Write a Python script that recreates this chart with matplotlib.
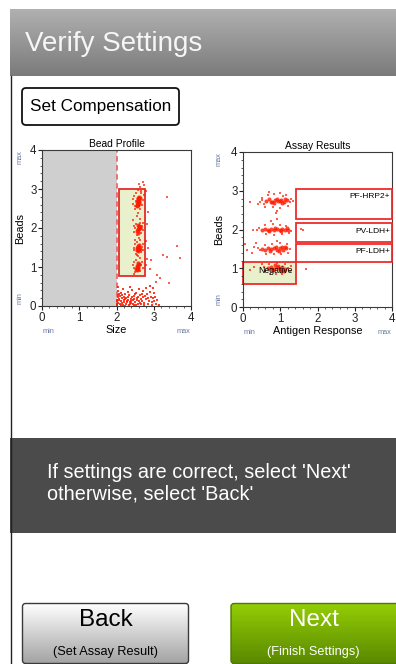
import numpy as np
import matplotlib
matplotlib.use("Agg")
import matplotlib.pyplot as plt
from matplotlib.patches import Rectangle, FancyBboxPatch
from matplotlib.colors import to_rgb
from matplotlib.ticker import AutoMinorLocator, MultipleLocator

plt.rcParams['font.family'] = ['Liberation Sans', 'DejaVu Sans']

# ---------------- DATA ----------------
ticks = [0, 1, 2, 3, 4]

# Bead Profile (Size vs Beads)
bp_core_x = [2.56, 2.57, 2.58, 2.59, 2.60, 2.55, 2.61, 2.58, 2.60, 2.57, 2.62, 2.54,
             2.58, 2.59, 2.60, 2.61, 2.57, 2.62, 2.59, 2.56, 2.63,
             2.57, 2.58, 2.59, 2.60, 2.56, 2.61, 2.58, 2.55, 2.62,
             2.55, 2.56, 2.57, 2.58, 2.54, 2.59, 2.57, 2.60, 2.53]
bp_core_y = [2.56, 2.62, 2.68, 2.74, 2.80, 2.66, 2.70, 2.58, 2.64, 2.76, 2.78, 2.60,
             1.88, 1.94, 2.00, 2.05, 1.98, 1.99, 2.08, 1.92, 2.03,
             1.40, 1.46, 1.52, 1.56, 1.48, 1.50, 1.55, 1.43, 1.45,
             0.92, 0.98, 1.04, 1.10, 1.02, 1.00, 0.94, 1.07, 0.96]
bp_halo_x = [2.45, 2.48, 2.66, 2.64, 2.50, 2.70, 2.52, 2.68, 2.44, 2.63, 2.60, 2.71, 2.66, 2.49, 2.74, 2.58, 2.53, 3.35,
             2.48, 2.52, 2.68, 2.66, 2.50, 2.70, 2.55, 2.64, 2.46, 2.72, 2.62, 2.55, 2.58, 2.82,
             2.48, 2.50, 2.68, 2.66, 2.52, 2.70, 2.54, 2.63, 2.46, 2.72, 2.60, 2.50, 2.84, 2.80,
             2.46, 2.48, 2.66, 2.64, 2.50, 2.68, 2.52, 2.62, 2.45, 2.70, 2.58, 2.48, 2.82, 2.80, 2.56,
             2.84, 2.89, 2.93, 3.25, 3.18, 3.10, 3.05, 3.40, 3.35, 3.62, 3.70, 2.45, 2.79, 2.75]
bp_halo_y = [2.62, 2.82, 2.90, 2.50, 2.48, 2.72, 2.90, 2.60, 2.74, 3.05, 3.12, 3.18, 2.96, 2.56, 2.84, 2.98, 2.70, 2.80,
             1.90, 2.10, 2.06, 1.88, 2.00, 1.96, 1.82, 2.14, 2.05, 2.12, 2.22, 2.30, 2.38, 2.10,
             1.44, 1.60, 1.52, 1.38, 1.34, 1.60, 1.64, 1.68, 1.50, 1.44, 1.74, 1.70, 1.48, 1.66,
             0.98, 1.12, 1.06, 0.90, 0.86, 1.14, 1.18, 1.22, 1.04, 0.98, 1.28, 0.82, 1.20, 1.05, 1.32,
             2.40, 0.94, 1.18, 1.30, 0.72, 0.80, 0.62, 0.60, 1.25, 1.55, 1.22, 2.20, 2.95, 3.10]
debris_x = [2.02, 2.05, 2.08, 2.03, 2.10, 2.12, 2.15, 2.07, 2.18, 2.20, 2.22, 2.04, 2.25, 2.27, 2.30, 2.13,
            2.33, 2.35, 2.38, 2.24, 2.40, 2.43, 2.46, 2.17, 2.48, 2.51, 2.54, 2.31, 2.57, 2.60, 2.63, 2.41,
            2.66, 2.69, 2.72, 2.52, 2.75, 2.78, 2.82, 2.60, 2.85, 2.88, 2.92, 2.70, 2.95, 2.98, 3.02, 2.80,
            3.06, 3.10, 2.02, 2.06, 2.09, 2.11, 2.14, 2.16, 2.19, 2.21, 2.23, 2.26, 2.28, 2.32, 2.34, 2.36,
            2.39, 2.42, 2.44, 2.47, 2.50, 2.53, 2.56, 2.59, 2.62, 2.65, 2.68, 2.73, 2.77, 2.84, 2.90, 2.96,
            3.00, 3.04, 2.05, 2.35, 2.90, 2.98, 3.14, 2.00, 2.01, 2.03]
debris_y = [0.02, 0.08, 0.15, 0.22, 0.05, 0.12, 0.20, 0.30, 0.03, 0.10, 0.18, 0.38, 0.06, 0.14, 0.24, 0.34,
            0.02, 0.11, 0.19, 0.30, 0.07, 0.15, 0.26, 0.44, 0.03, 0.10, 0.20, 0.36, 0.06, 0.14, 0.28, 0.40,
            0.04, 0.12, 0.22, 0.34, 0.08, 0.18, 0.30, 0.44, 0.05, 0.14, 0.24, 0.38, 0.10, 0.20, 0.33, 0.46,
            0.06, 0.16, 0.12, 0.18, 0.26, 0.02, 0.08, 0.28, 0.16, 0.24, 0.01, 0.20, 0.09, 0.16, 0.28, 0.05,
            0.13, 0.22, 0.04, 0.17, 0.30, 0.02, 0.16, 0.24, 0.08, 0.19, 0.32, 0.02, 0.26, 0.20, 0.36, 0.02,
            0.12, 0.24, 0.48, 0.50, 0.52, 0.45, 0.02, 0.06, 0.16, 0.28]
size_threshold = 2.0
bead_gate = [2.08, 0.77, 2.77, 2.99]          # x0, y0, x1, y1

# Assay Results (Antigen Response vs Beads)
ar_core_x = [0.62, 0.70, 0.78, 0.86, 0.94, 1.02, 1.10, 1.18, 0.74, 0.90, 1.06, 0.98, 0.82, 1.14,
             0.50, 0.58, 0.66, 0.74, 0.82, 0.90, 0.98, 1.06, 1.14, 1.22, 0.70, 0.86, 1.02, 1.18,
             0.52, 0.60, 0.68, 0.76, 0.84, 0.92, 1.00, 1.08, 1.16, 0.72, 0.88, 1.04, 0.96, 1.12,
             0.66, 0.74, 0.82, 0.90, 0.98, 1.06, 1.14, 0.78, 0.94, 1.10, 0.86, 1.02]
ar_core_y = [2.74, 2.78, 2.72, 2.76, 2.73, 2.77, 2.71, 2.75, 2.70, 2.80, 2.68, 2.74, 2.68, 2.79,
             1.99, 2.01, 1.98, 2.02, 1.99, 2.01, 1.98, 2.02, 1.99, 2.00, 1.96, 2.04, 1.96, 2.03,
             1.50, 1.47, 1.52, 1.49, 1.53, 1.48, 1.51, 1.47, 1.52, 1.45, 1.56, 1.55, 1.44, 1.56,
             1.00, 1.03, 0.98, 1.02, 0.99, 1.03, 0.98, 0.95, 1.06, 0.94, 1.08, 0.93]
ar_halo_x = [0.45, 0.52, 0.56, 1.25, 1.30, 0.66, 0.84, 1.00, 1.16, 0.60, 0.80, 0.98, 1.20, 0.92, 0.88, 0.20,
             0.40, 1.34, 0.70, 1.08, 0.50,
             0.38, 0.44, 1.30, 0.60, 0.80, 1.00, 1.16, 0.62, 0.84, 1.04, 1.24, 0.76, 0.92, 1.62, 1.55, 0.28,
             0.40, 0.46, 1.26, 0.58, 0.78, 0.98, 1.18, 0.62, 0.82, 1.02, 1.22, 0.30, 0.12, 0.06, 0.24, 0.90, 0.36,
             0.56, 0.60, 1.22, 1.26, 0.70, 0.92, 1.12, 0.72, 0.88, 1.06, 0.30, 0.20, 1.70, 0.50, 1.30]
ar_halo_y = [2.72, 2.82, 2.66, 2.70, 2.80, 2.90, 2.92, 2.94, 2.90, 2.58, 2.58, 2.56, 2.60, 2.48, 2.42, 2.70,
             2.66, 2.74, 2.98, 2.86, 2.76,
             1.98, 2.04, 1.96, 2.12, 2.14, 2.12, 2.10, 1.88, 1.86, 1.88, 1.90, 2.22, 2.26, 1.98, 2.02, 2.00,
             1.52, 1.46, 1.50, 1.60, 1.62, 1.64, 1.62, 1.38, 1.36, 1.38, 1.40, 1.56, 1.48, 1.62, 1.40, 1.70, 1.64,
             1.02, 0.92, 1.00, 0.92, 1.12, 1.14, 1.10, 0.86, 0.84, 0.86, 1.04, 0.96, 0.98, 1.10, 1.06]
gate_names = ['Negative', 'PF-LDH+', 'PV-LDH+', 'PF-HRP2+']
gate_x0 = [0.0, 1.41, 1.41, 1.41]
gate_x1 = [1.41, 4.0, 4.0, 4.0]
gate_y0 = [0.59, 1.17, 1.67, 2.26]
gate_y1 = [1.17, 1.62, 2.16, 3.04]

# ---------------- LAYOUT ----------------
W, H = 396, 664
fig = plt.figure(figsize=(W / 100, H / 100), dpi=100)
fig.patch.set_facecolor('white')
bg = fig.add_axes([0, 0, 1, 1])
bg.axis('off')


def gradient(x0, y0, x1, y1, ctop, cbot, clip=None, z=1):
    t = np.linspace(0, 1, 64)[:, None, None]
    arr = (1 - t) * np.array(to_rgb(ctop)) + t * np.array(to_rgb(cbot))
    arr = np.repeat(arr, 2, axis=1)
    im = bg.imshow(arr, extent=(x0, x1, y1, y0), aspect='auto',
                   interpolation='bilinear', zorder=z)
    if clip is not None:
        im.set_clip_path(clip)
    return im


# header
gradient(10, 9, W, 76, '#b0b0b0', '#7b7b7b')
bg.text(25, 44, 'Verify Settings', color='#f6f6f6', fontsize=20, va='center', ha='left', zorder=3)
# left rule
bg.plot([10.5, 10.5], [76, H], color='#222222', lw=1.0, zorder=3)

# Set Compensation button
bg.add_patch(FancyBboxPatch((22, 88), 157, 37, boxstyle='round,pad=0,rounding_size=4',
                            fc='white', ec='#111111', lw=1.3, zorder=2))
bg.text(100.5, 106.5, 'Set Compensation', fontsize=12.3, ha='center', va='center', zorder=3)

# message band
bg.add_patch(Rectangle((10, 438), W - 10, 95, fc='#4b4b4b', ec='none', zorder=1))
bg.text(47, 472, "If settings are correct, select 'Next'", color='white', fontsize=14.3,
        va='center', ha='left', zorder=3)
bg.text(47, 494, "otherwise, select 'Back'", color='white', fontsize=14.3,
        va='center', ha='left', zorder=3)

# Back button
back = FancyBboxPatch((22.5, 603.5), 166, 60, boxstyle='round,pad=0,rounding_size=3',
                      fc='none', ec='#3a3a3a', lw=1.0, zorder=4)
bg.add_patch(back)
gradient(22.5, 603.5, 188.5, 663.5, '#ffffff', '#a4a4a4', clip=back, z=2)
bg.text(105.5, 620, 'Back', fontsize=17.5, ha='center', va='center', zorder=5)
bg.text(105.5, 652, '(Set Assay Result)', fontsize=9.2, ha='center', va='center', zorder=5)

# Next button
nxt = FancyBboxPatch((231, 603.5), 170, 60, boxstyle='round,pad=0,rounding_size=3',
                     fc='none', ec='#4f7a00', lw=1.0, zorder=4)
bg.add_patch(nxt)
gradient(231, 603.5, 401, 663.5, '#94ce05', '#5a8900', clip=nxt, z=2)
bg.text(313.5, 620, 'Next', fontsize=17.5, ha='center', va='center', color='white', zorder=5)
bg.text(313.5, 652, '(Finish Settings)', fontsize=9.2, ha='center', va='center', color='white', zorder=5)

bg.set_xlim(0, W)
bg.set_ylim(H, 0)


def make_ax(l, t, r, b):
    ax = fig.add_axes([l / W, 1 - b / H, (r - l) / W, (b - t) / H])
    ax.set_xlim(0, 4)
    ax.set_ylim(0, 4)
    ax.xaxis.set_major_locator(MultipleLocator(1))
    ax.yaxis.set_major_locator(MultipleLocator(1))
    ax.xaxis.set_minor_locator(AutoMinorLocator(5))
    ax.yaxis.set_minor_locator(AutoMinorLocator(5))
    ax.set_xticks(ticks)
    ax.set_yticks(ticks)
    ax.tick_params(which='major', direction='out', length=3, width=0.8, labelsize=8.3,
                   pad=1, colors='#222222')
    ax.tick_params(which='minor', direction='out', length=1.6, width=0.6, colors='#444444')
    for s in ax.spines.values():
        s.set_color('#3a3a3a')
        s.set_linewidth(0.8)
    return ax


def decorate(ax, title, xlabel, lab_x):
    ax.set_title(title, fontsize=7.4, pad=2.5)
    ax.set_xlabel(xlabel, fontsize=7.8, va='center')
    ax.xaxis.set_label_coords(0.5, -0.155)
    ax.set_ylabel('Beads', fontsize=7.8, va='center')
    ax.yaxis.set_label_coords(lab_x, 0.5)
    mc = '#6878a0'
    ax.text(lab_x, 0.955, 'max', transform=ax.transAxes, rotation=90, fontsize=5.3,
            color=mc, ha='center', va='center')
    ax.text(lab_x, 0.05, 'min', transform=ax.transAxes, rotation=90, fontsize=5.3,
            color=mc, ha='center', va='center')
    ax.text(0.04, -0.165, 'min', transform=ax.transAxes, fontsize=5.3, color=mc,
            ha='center', va='center')
    ax.text(0.95, -0.165, 'max', transform=ax.transAxes, fontsize=5.3, color=mc,
            ha='center', va='center')


red = '#ff1a00'

# ----- Bead Profile -----
ax1 = make_ax(42, 150, 191, 306)
ax1.axvspan(0, size_threshold, color='#cfcfcf', lw=0, zorder=0)
ax1.axvline(size_threshold, color='#e86a6a', ls=(0, (3, 2)), lw=1.3, zorder=1)
ax1.add_patch(Rectangle((bead_gate[0], bead_gate[1]), bead_gate[2] - bead_gate[0],
                        bead_gate[3] - bead_gate[1], fc='#e9f1cc', ec='#e52a2a', lw=1.3, zorder=1))
ax1.scatter(debris_x, debris_y, s=2.4, marker='s', c=red, lw=0, alpha=0.85, zorder=2)
ax1.scatter(bp_halo_x, bp_halo_y, s=1.6, marker='s', c=red, lw=0, alpha=0.7, zorder=2)
ax1.scatter(bp_core_x, bp_core_y, s=9, marker='o', c=red, lw=0, alpha=0.85, zorder=3)
decorate(ax1, 'Bead Profile', 'Size', -0.148)

# ----- Assay Results -----
ax2 = make_ax(243, 152, 392, 307)
for name, x0, x1, y0, y1 in zip(gate_names, gate_x0, gate_x1, gate_y0, gate_y1):
    fc = '#e9f1cc' if name == 'Negative' else 'none'
    ax2.add_patch(Rectangle((x0, y0), x1 - x0, y1 - y0, fc=fc, ec='#ee2b2b', lw=1.3,
                            zorder=1 if name == 'Negative' else 4, clip_on=False))
ax2.scatter(ar_halo_x, ar_halo_y, s=1.8, marker='s', c=red, lw=0, alpha=0.7, zorder=2)
ax2.scatter(ar_core_x, ar_core_y, s=8.5, marker='o', c=red, lw=0, alpha=0.8, zorder=3)
for name, x0, x1, y0, y1 in zip(gate_names, gate_x0, gate_x1, gate_y0, gate_y1):
    if name == 'Negative':
        ax2.text((x0 + x1) / 2 + 0.18, (y0 + y1) / 2 + 0.07, name, fontsize=6.2,
                 ha='center', va='center', zorder=5)
    else:
        ax2.text(3.95, y1 - 0.2, name, fontsize=6, ha='right', va='center', zorder=5)
decorate(ax2, 'Assay Results', 'Antigen Response', -0.161)

fig.savefig('out.png', dpi=100)
